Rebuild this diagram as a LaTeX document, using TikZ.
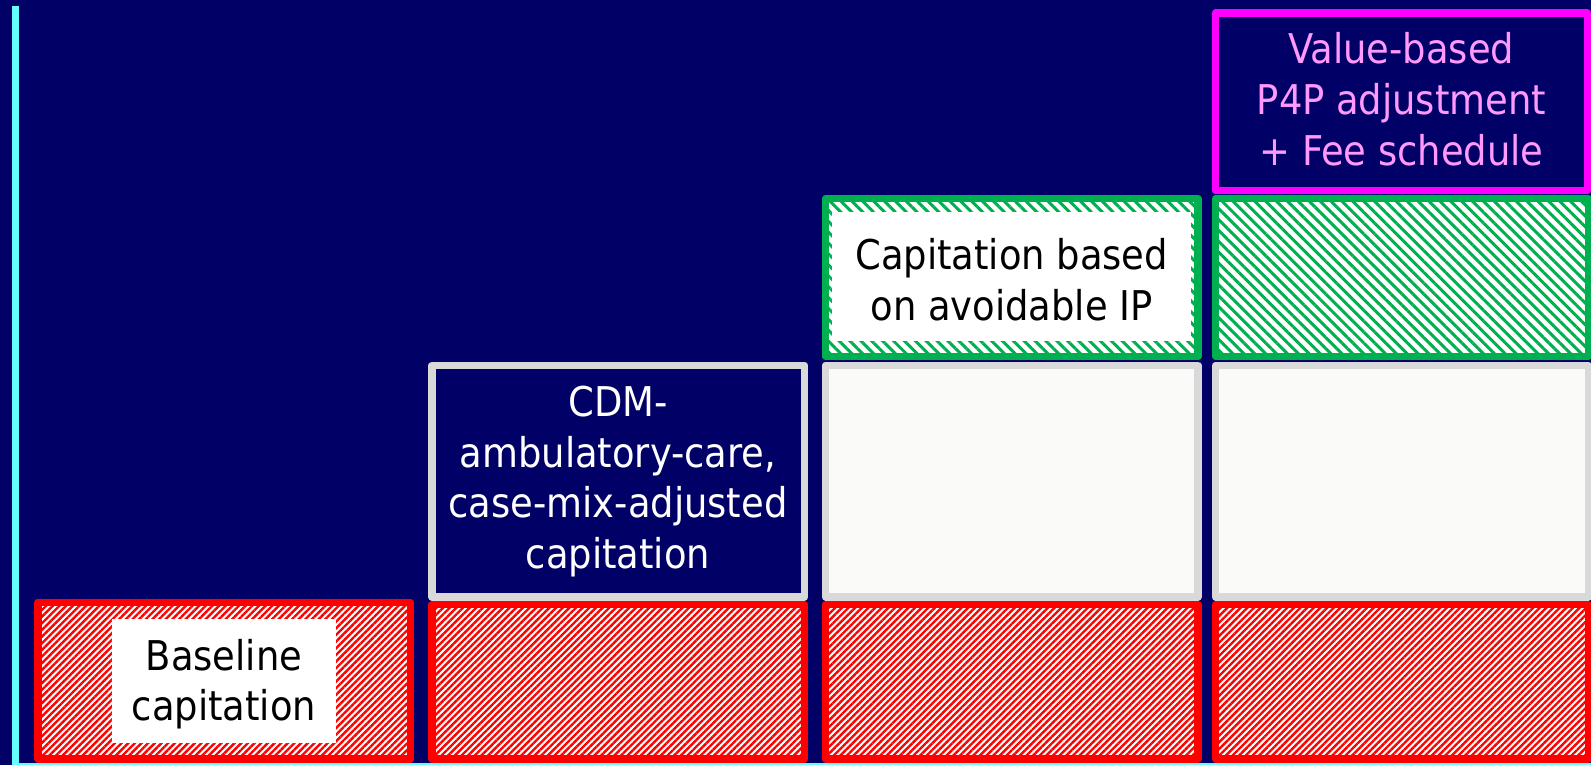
\documentclass[tikz,border=0pt]{standalone}
\usepackage{fontspec}
\setmainfont{DejaVu Sans Condensed}
\usetikzlibrary{patterns.meta}
\definecolor{navy}{RGB}{0,0,102}
\definecolor{axiscyan}{RGB}{102,255,255}
\definecolor{boxred}{RGB}{255,0,0}
\definecolor{boxgreen}{RGB}{0,176,80}
\definecolor{boxgray}{RGB}{217,217,217}
\definecolor{boxmag}{RGB}{255,0,255}
\definecolor{pinktext}{RGB}{255,153,255}
\definecolor{palefill}{RGB}{250,250,248}
\tikzset{
  boxline/.style={line width=7.3pt, line join=round},
  redbox/.style={boxline, draw=boxred, preaction={fill=white},
    pattern={Lines[angle=45,distance=4.7pt,line width=2.4pt]}, pattern color=boxred},
  greenbox/.style={boxline, draw=boxgreen, preaction={fill=white},
    pattern={Lines[angle=-45,distance=7.7pt,line width=3pt]}, pattern color=boxgreen},
  graybox/.style={boxline, draw=boxgray, fill=palefill},
  darkgraybox/.style={boxline, draw=boxgray, fill=navy},
  magbox/.style={boxline, draw=boxmag, fill=navy},
  whitepatch/.style={fill=white},
  label/.style={inner sep=0pt, align=center, anchor=base, font=\fontsize{41}{50.5}\selectfont}
}
\begin{document}
\begin{tikzpicture}[x=1pt,y=-1pt]
\useasboundingbox (0,0) rectangle (1591,765);
\fill[navy] (0,0) rectangle (1591,765);
\begin{scope}
\clip (0,0) rectangle (1591,765);
% axes
\draw[axiscyan, line width=3pt] (12,764) -- (1595,764);
\draw[axiscyan, line width=7pt] (15.5,6) -- (15.5,765);
% column 1
\path[redbox] (37.95,602.15) rectangle (410.65,758.85);
\fill[whitepatch] (112,619) rectangle (336,743);
\node[label, text=black] (baseline) at (224,720.5) {Baseline\\capitation};
% column 2
\path[redbox] (431.95,604.65) rectangle (804.65,758.85);
\path[darkgraybox] (431.95,365.35) rectangle (804.65,596.85);
\node[label, text=white] (cdm) at (618,568.3) {CDM-\\ambulatory-care,\\case-mix-adjusted\\capitation};
% column 3
\path[redbox] (825.35,604.65) rectangle (1198.05,758.85);
\path[graybox] (825.35,365.35) rectangle (1198.05,596.85);
\path[greenbox] (825.35,198.65) rectangle (1198.05,356.35);
\fill[whitepatch] (832,212) rectangle (1191,340.5);
\node[label, text=black] (avoid) at (1011.7,320) {Capitation based\\on avoidable IP};
% column 4
\path[redbox] (1215.65,604.65) rectangle (1588.35,758.85);
\path[graybox] (1215.65,365.35) rectangle (1588.35,596.85);
\path[greenbox] (1215.65,198.65) rectangle (1588.35,356.35);
\path[magbox] (1215.65,12.95) rectangle (1587.35,190.65);
\node[label, text=pinktext] (value) at (1401.5,165) {Value-based\\P4P adjustment\\+ Fee schedule};
\end{scope}
\end{tikzpicture}
\end{document}
